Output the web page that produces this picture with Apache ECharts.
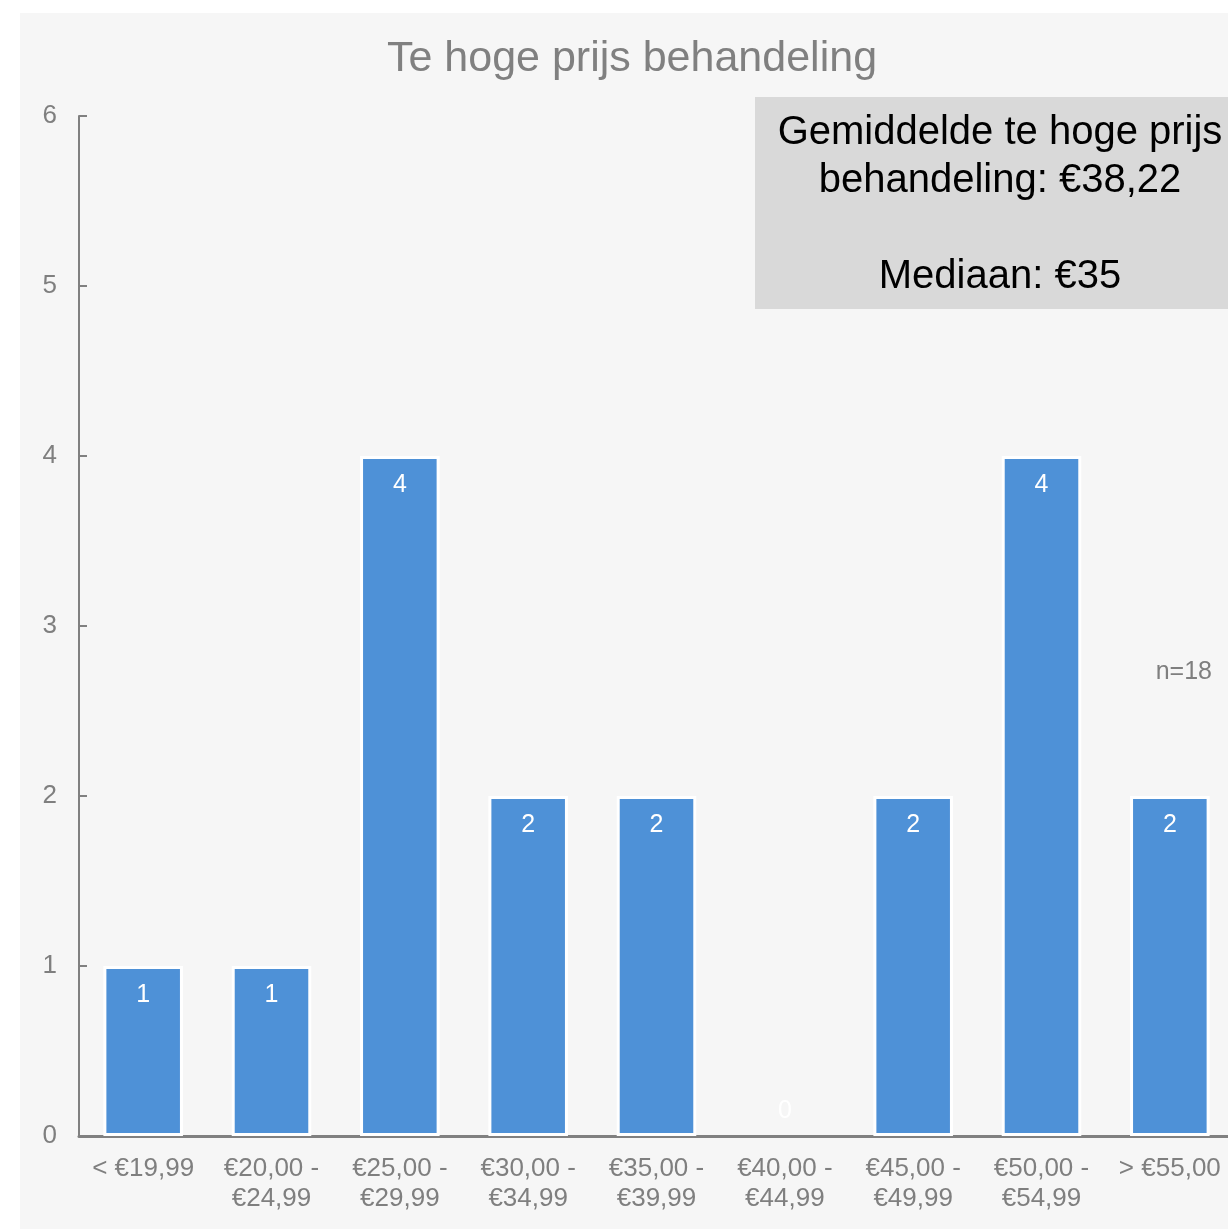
<!DOCTYPE html>
<html>
<head>
<meta charset="utf-8">
<script src="https://cdn.jsdelivr.net/npm/echarts@6/dist/echarts.min.js"></script>
<style>
  html, body { margin: 0; padding: 0; background: #ffffff; overflow: hidden; width: 1228px; height: 1229px; }
  #panel { position: absolute; left: 20px; top: 13px; width: 1208px; height: 1216px; background: #f6f6f6; }
  #chart { position: absolute; left: 0; top: 0; width: 1240px; height: 1229px; }
</style>
</head>
<body>
<div id="panel"></div>
<div id="chart"></div>
<script>
// Price brackets considered too expensive for a treatment
const categories = [
  '< €19,99', '€20,00 -\n€24,99', '€25,00 -\n€29,99', '€30,00 -\n€34,99',
  '€35,00 -\n€39,99', '€40,00 -\n€44,99', '€45,00 -\n€49,99', '€50,00 -\n€54,99', '> €55,00'
];
const counts = [1, 1, 4, 2, 2, 0, 2, 4, 2];
const yTicks = { min: 0, max: 6, interval: 1 };
const titleText = 'Te hoge prijs behandeling';
const summaryLines = ['Gemiddelde te hoge prijs', 'behandeling: €38,22', '', 'Mediaan: €35'];
const sampleNote = 'n=18';

const FONT = '"Liberation Sans", Arial, Helvetica, sans-serif';
const GREY = '#7f7f7f';

const chart = echarts.init(document.getElementById('chart'));

// Empty brackets keep their label just above the axis and draw no outline
const seriesData = counts.map(v => {
  if (v === 0) {
    return { value: v, itemStyle: { borderWidth: 0 }, label: { position: 'top', distance: 12 } };
  }
  return v;
});

chart.setOption({
  backgroundColor: 'transparent',
  animation: false,
  textStyle: { fontFamily: FONT },
  // the plot runs slightly past the visible right edge, so the last bracket is clipped
  grid: { left: 79, right: 6, top: 116, bottom: 93, containLabel: false },
  xAxis: {
    type: 'category',
    data: categories,
    axisLine: { show: true, lineStyle: { color: '#808080', width: 3 } },
    axisTick: { show: false },
    axisLabel: {
      color: GREY, fontSize: 26, lineHeight: 30, margin: 18,
      interval: 0, fontFamily: FONT
    }
  },
  yAxis: {
    type: 'value',
    min: yTicks.min, max: yTicks.max, interval: yTicks.interval,
    axisLine: { show: true, lineStyle: { color: '#808080', width: 2 } },
    axisTick: { show: true, inside: true, length: 8, lineStyle: { color: '#808080', width: 2 } },
    splitLine: { show: false },
    axisLabel: { color: GREY, fontSize: 26, margin: 22, fontFamily: FONT }
  },
  series: [{
    type: 'bar',
    data: seriesData,
    barWidth: '62%',
    itemStyle: { color: '#4e91d7', borderColor: '#ffffff', borderWidth: 3 },
    label: {
      show: true,
      position: 'insideTop',
      distance: 17,
      color: '#ffffff',
      fontSize: 25,
      fontFamily: FONT
    }
  }],
  graphic: [
    {
      type: 'text',
      x: 632, y: 59,
      style: {
        text: titleText,
        font: '43px ' + FONT,
        fill: '#808080',
        textAlign: 'center',
        textVerticalAlign: 'middle'
      }
    },
    {
      type: 'rect',
      shape: { x: 755, y: 97, width: 490, height: 212 },
      style: { fill: '#d9d9d9' },
      z: 10
    },
    {
      type: 'text',
      x: 1000, y: 205,
      z: 11,
      style: {
        text: summaryLines.join('\n'),
        font: '40px ' + FONT,
        lineHeight: 48,
        fill: '#000000',
        textAlign: 'center',
        textVerticalAlign: 'middle'
      }
    },
    {
      type: 'text',
      x: 1212, y: 672,
      style: {
        text: sampleNote,
        font: '25px ' + FONT,
        fill: GREY,
        textAlign: 'right',
        textVerticalAlign: 'middle'
      }
    }
  ]
});
</script>
</body>
</html>
